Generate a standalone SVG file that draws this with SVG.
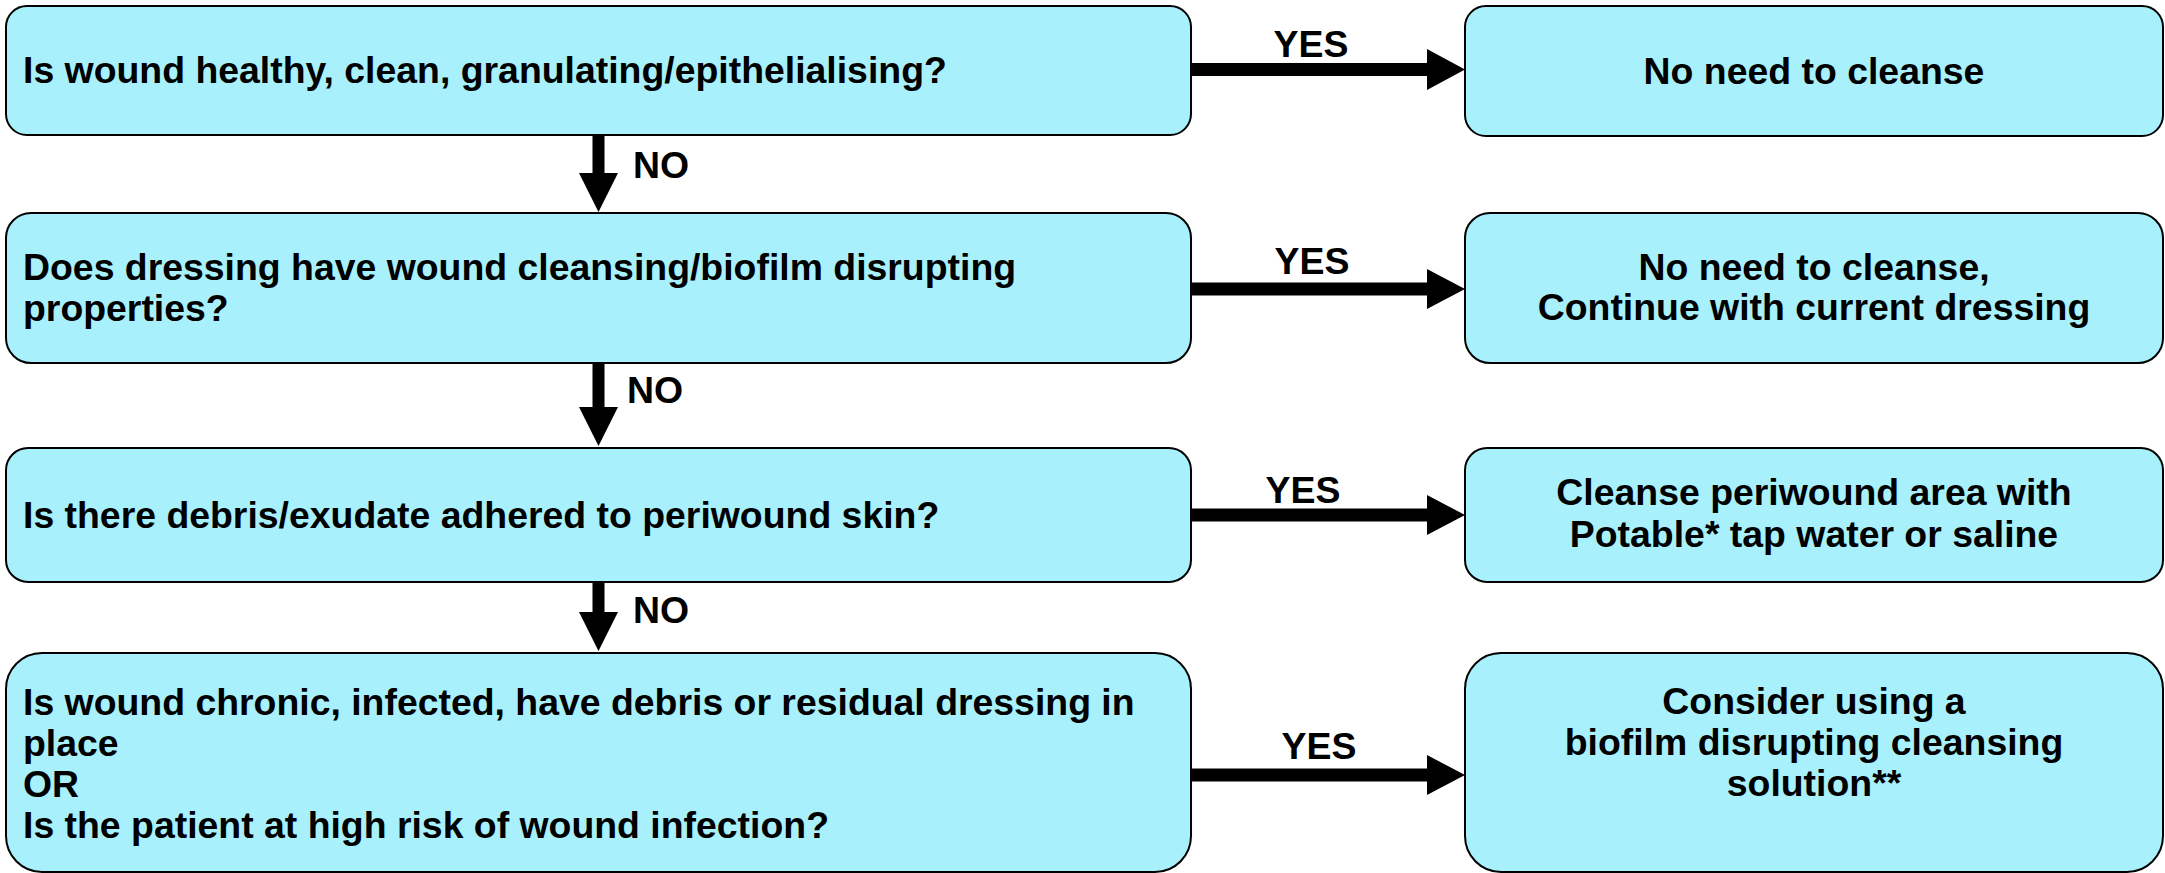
<svg xmlns="http://www.w3.org/2000/svg" width="2165" height="873" viewBox="0 0 2165 873">
<style>
.box{fill:#a7f0fc;stroke:#000;stroke-width:2}
text{font-family:"Liberation Sans",Arial,sans-serif;font-weight:bold;font-size:37.4px;fill:#000}
.c{text-anchor:middle}
.arr{fill:#000}
</style>
<rect width="2165" height="873" fill="#fff"/>
<g id="q1"><rect class="box" x="6" y="6" width="1185" height="129" rx="21" ry="21"/><text x="23" y="83">Is wound healthy, clean, granulating/epithelialising?</text></g>
<g id="a1"><rect class="box" x="1465" y="6" width="698" height="130" rx="21" ry="21"/><text class="c" x="1814" y="84">No need to cleanse</text></g>
<g id="q2"><rect class="box" x="6" y="213" width="1185" height="150" rx="25" ry="25"/><text x="23" y="280">Does dressing have wound cleansing/biofilm disrupting</text><text x="23" y="321">properties?</text></g>
<g id="a2"><rect class="box" x="1465" y="213" width="698" height="150" rx="25" ry="25"/><text class="c" x="1814" y="280">No need to cleanse,</text><text class="c" x="1814" y="320">Continue with current dressing</text></g>
<g id="q3"><rect class="box" x="6" y="448" width="1185" height="134" rx="22" ry="22"/><text x="23" y="528">Is there debris/exudate adhered to periwound skin?</text></g>
<g id="a3"><rect class="box" x="1465" y="448" width="698" height="134" rx="22" ry="22"/><text class="c" x="1814" y="505">Cleanse periwound area with</text><text class="c" x="1814" y="547">Potable* tap water or saline</text></g>
<g id="q4"><rect class="box" x="6" y="653" width="1185" height="219" rx="36" ry="36"/><text x="23" y="715">Is wound chronic, infected, have debris or residual dressing in</text><text x="23" y="756">place</text><text x="23" y="797">OR</text><text x="23" y="838">Is the patient at high risk of wound infection?</text></g>
<g id="a4"><rect class="box" x="1465" y="653" width="698" height="219" rx="36" ry="36"/><text class="c" x="1814" y="714">Consider using a</text><text class="c" x="1814" y="755">biofilm disrupting cleansing</text><text class="c" x="1814" y="796">solution**</text></g>
<g id="connectors">
<path class="arr" d="M592.5,135 H604.5 V173 H618 L598.5,212 L579,173 H592.5 Z"/>
<text x="633" y="178">NO</text>
<path class="arr" d="M592.5,363 H604.5 V407 H618 L598.5,446 L579,407 H592.5 Z"/>
<text x="627" y="403">NO</text>
<path class="arr" d="M592.5,582 H604.5 V612 H618 L598.5,651 L579,612 H592.5 Z"/>
<text x="633" y="623">NO</text>
<path class="arr" d="M1191,63 H1427 V49 L1465,69.5 L1427,90 V76 H1191 Z"/>
<text class="c" x="1311" y="57">YES</text>
<path class="arr" d="M1191,282.5 H1427 V269 L1465,289 L1427,309 V295.5 H1191 Z"/>
<text class="c" x="1312" y="274">YES</text>
<path class="arr" d="M1191,508.5 H1427 V495 L1465,515 L1427,535 V521.5 H1191 Z"/>
<text class="c" x="1303" y="503">YES</text>
<path class="arr" d="M1191,768.5 H1427 V755 L1465,775 L1427,795 V781.5 H1191 Z"/>
<text class="c" x="1319" y="759">YES</text>
</g>
</svg>
